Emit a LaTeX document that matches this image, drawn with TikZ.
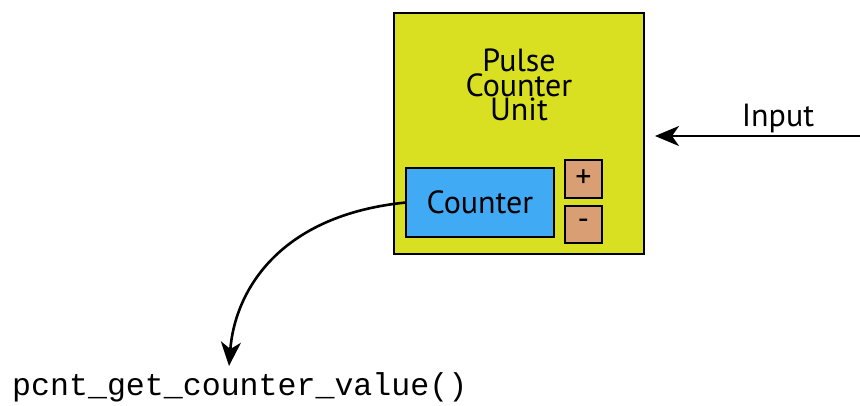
\documentclass[tikz,border=0pt]{standalone}
\usepackage{fontspec}
\setmainfont{PT Sans}
\newfontfamily\codefont{Liberation Mono}
\usetikzlibrary{arrows.meta}
\definecolor{unitfill}{HTML}{D8E021}
\definecolor{counterfill}{HTML}{40AAF5}
\definecolor{signfill}{HTML}{D99E73}
\tikzset{
  box/.style={draw=black, line width=2.6pt, inner sep=0pt, outer sep=0pt},
  lbl/.style={inner sep=0pt, font=\fontsize{32}{24.5}\selectfont, align=center},
  sign/.style={box, fill=signfill, minimum width=37pt, font=\fontsize{32}{32}\selectfont},
  conn/.style={line width=2.6pt, -{Stealth[length=24pt,width=20pt,inset=7pt]}}
}
\begin{document}
\begin{tikzpicture}[x=1pt,y=-1pt]
\useasboundingbox (0,0) rectangle (860,406);
\node[box, fill=unitfill, minimum width=250pt, minimum height=241pt] (unit) at (519,133.5) {};
\node[lbl] (title) at (519,85) {Pulse\\Counter\\Unit};
\node[box, fill=counterfill, minimum width=148pt, minimum height=69pt] (counter) at (480,202.5) {};
\node[lbl] (countertext) at (480,202) {Counter};
\node[sign, minimum height=38pt] (plus) at (583.5,179) {+};
\node[sign, minimum height=37pt] (minus) at (583.5,224.5) {-};
\node[lbl, anchor=base] (inputlbl) at (778,127) {Input};
\coordinate (inR) at (860,136);
\coordinate (inL) at (655,136);
\draw[conn] (inR) -- (inL);
\node[inner sep=0pt, anchor=base west, font=\codefont\fontsize{31.6}{32}\selectfont] (func) at (12,395) {pcnt\_get\_counter\_value()};
\coordinate (funcTip) at (229,366);
\draw[conn] (counter.west) .. controls (280,215) and (235,290) .. (funcTip);
\end{tikzpicture}
\end{document}
